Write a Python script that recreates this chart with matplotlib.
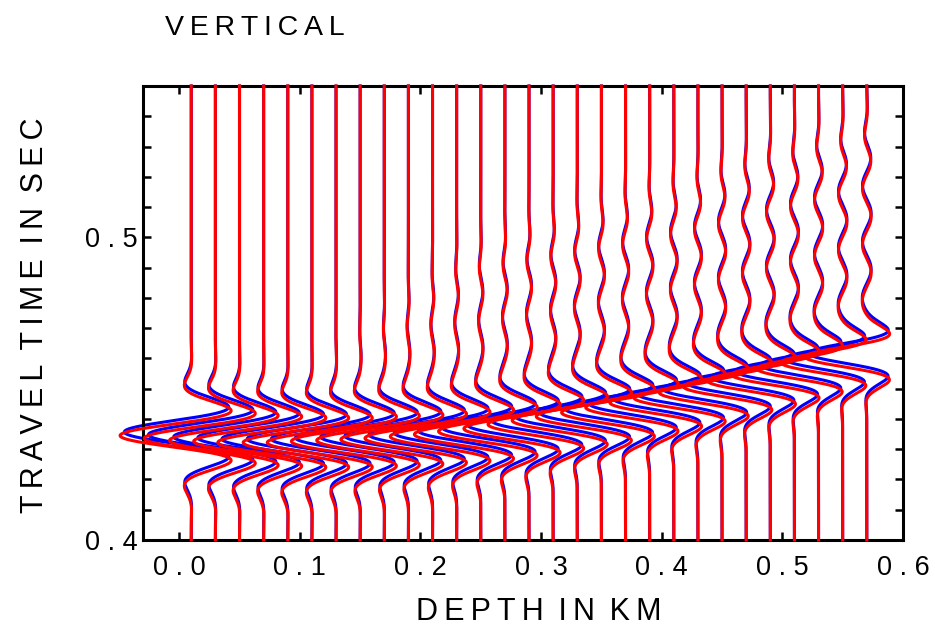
import numpy as np
import matplotlib
matplotlib.use('Agg')
import matplotlib.pyplot as plt

plt.rcParams['font.family'] = ['Liberation Sans', 'DejaVu Sans']

## Données des traces

# profondeur des récepteurs (km)
depths = [0.01, 0.03, 0.05, 0.07, 0.09, 0.11, 0.13, 0.15, 0.17, 0.19,
          0.21, 0.23, 0.25, 0.27, 0.29, 0.31, 0.33, 0.35, 0.37, 0.39,
          0.41, 0.43, 0.45, 0.47, 0.49, 0.51, 0.53, 0.55, 0.57]

# temps du lobe principal (s)
t_center = [0.4345, 0.4336, 0.4329, 0.4326, 0.4322, 0.4322, 0.4322, 0.4326, 0.4329, 0.4332,
            0.4336, 0.4342, 0.4349, 0.4359, 0.4368, 0.4382, 0.4395, 0.4408, 0.4421, 0.4438,
            0.4454, 0.4470, 0.4487, 0.4507, 0.4526, 0.4546, 0.4566, 0.4586, 0.4605]

# amplitude du lobe principal (en km sur l'axe)
amp = [0.059, 0.059, 0.058, 0.058, 0.058, 0.057, 0.057, 0.057, 0.056, 0.056,
       0.056, 0.055, 0.055, 0.055, 0.054, 0.054, 0.054, 0.054, 0.053, 0.053,
       0.053, 0.053, 0.052, 0.052, 0.052, 0.052, 0.051, 0.051, 0.051]

# rapport lobe secondaire / lobe principal
lobe = [0.52, 0.52, 0.51, 0.50, 0.50, 0.49, 0.48, 0.48, 0.47, 0.46,
        0.45, 0.45, 0.44, 0.43, 0.42, 0.41, 0.40, 0.40, 0.39, 0.38,
        0.37, 0.36, 0.35, 0.34, 0.33, 0.32, 0.31, 0.30, 0.29]

# coda (queue d'oscillations après l'arrivée) : amplitude (km) et durée (s)
coda_amp = [0.0, 0.0, 0.0, 0.0, 0.0, 0.0, 0.0005, 0.0008, 0.0010, 0.0012,
            0.0014, 0.0016, 0.0018, 0.0020, 0.0021, 0.0022, 0.0024, 0.0025, 0.0026, 0.0027,
            0.0028, 0.0029, 0.0030, 0.0031, 0.0032, 0.0033, 0.0034, 0.0035, 0.0036]
coda_len = [0.020, 0.020, 0.020, 0.020, 0.020, 0.020, 0.030, 0.035, 0.040, 0.045,
            0.050, 0.055, 0.058, 0.060, 0.062, 0.063, 0.064, 0.065, 0.066, 0.067,
            0.068, 0.069, 0.070, 0.071, 0.072, 0.072, 0.073, 0.073, 0.074]

x_ticks = [0.0, 0.1, 0.2, 0.3, 0.4, 0.5, 0.6]
x_labels = ['0 . 0', '0 . 1', '0 . 2', '0 . 3', '0 . 4', '0 . 5', '0 . 6']

freq = 54.0        # fréquence de l'ondelette (Hz)
blue_shift = 0.0012
blue_scale = 0.94


def ondelette(t, tc, a, r, ca, cl):
    tau = t - tc
    sig = 0.5 / freq / np.sqrt(-np.log(r))
    env = np.exp(-(tau / sig) ** 2)
    # la coda ne démarre qu'après le premier lobe secondaire
    env = env + (ca / a) * 0.5 * (1 + np.tanh((tau - 0.013) / 0.004)) * 0.5 * (1 - np.tanh((tau - cl) / 0.008))
    return -a * np.cos(2 * np.pi * freq * tau) * env


def espace(s):
    # lettres espacées
    return '\u2009 '.join('\u2009'.join(w) for w in s.split(' '))


## Figure

fig = plt.figure(figsize=(9.35, 6.26), dpi=100)
ax = fig.add_axes([143 / 935, 1 - 540 / 626, 760 / 935, 454 / 626])

t = np.linspace(0.40, 0.55, 1500)
for k in range(len(depths)):
    wb = ondelette(t, t_center[k] + blue_shift, amp[k] * blue_scale, lobe[k], coda_amp[k], coda_len[k])
    wr = ondelette(t, t_center[k], amp[k], lobe[k], coda_amp[k], coda_len[k])
    ax.plot(depths[k] + wb, t, color='#0000ff', lw=2.2, clip_on=False, zorder=2)
    ax.plot(depths[k] + wr, t, color='#ff0000', lw=2.2, clip_on=False, zorder=3)

ax.set_xlim(-0.03, 0.6)
ax.set_ylim(0.40, 0.55)
ax.set_xticks(x_ticks)
ax.set_xticklabels(x_labels)
yt = np.round(np.arange(0.40, 0.551, 0.01), 2)
ax.set_yticks(yt)
ax.set_yticklabels(['0 . 4' if abs(v - 0.4) < 1e-6 else ('0 . 5' if abs(v - 0.5) < 1e-6 else '') for v in yt])

ax.tick_params(direction='in', length=6, width=1.8, top=True, right=True, labelsize=19.5)
ax.tick_params(axis='x', pad=11)
ax.tick_params(axis='y', pad=4)
for s in ax.spines.values():
    s.set_linewidth(2.2)

fig.text(165 / 935, 1 - 35 / 626, espace('VERTICAL'), fontsize=20.5, ha='left', va='baseline')
fig.text(539 / 935, 1 - 620 / 626, espace('DEPTH IN KM'), fontsize=22, ha='center', va='baseline')
fig.text(43 / 935, 1 - 315 / 626, espace('TRAVEL TIME IN SEC'), fontsize=22, rotation=90,
         rotation_mode='anchor', ha='center', va='baseline')

plt.savefig('out.png', dpi=100)
